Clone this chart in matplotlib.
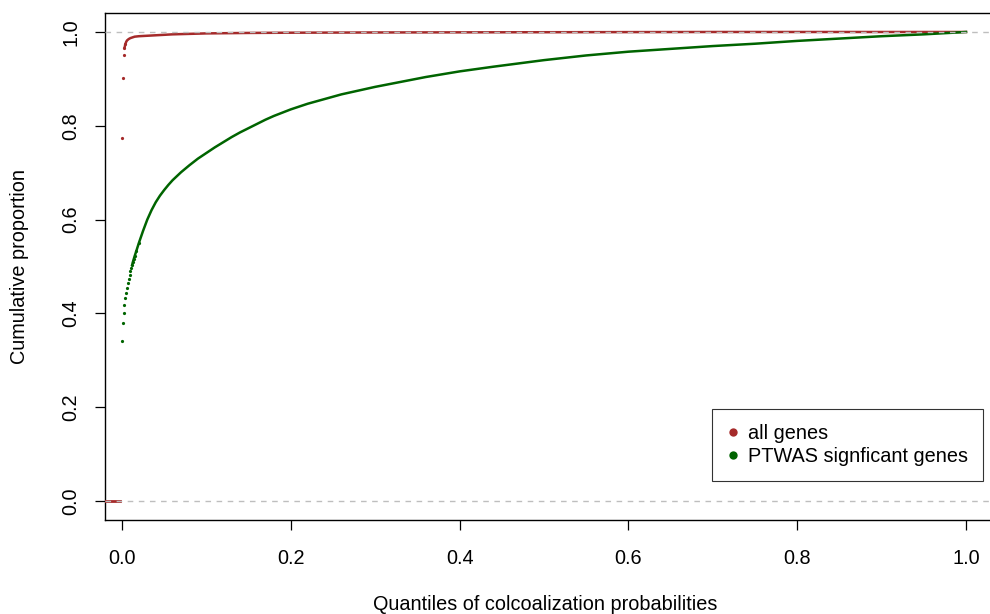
import matplotlib
matplotlib.use("Agg")
import matplotlib.pyplot as plt
import numpy as np

plt.rcParams['font.family'] = ['Liberation Sans', 'DejaVu Sans']

# ---- data ----
all_x = [-0.020, -0.017, -0.014, -0.011, -0.008, -0.005, -0.002,
         0.000, 0.001, 0.002, 0.003, 0.004, 0.005, 0.006, 0.008, 0.010,
         0.015, 0.020, 0.030, 0.040, 0.060, 0.080, 0.100, 0.150, 0.200,
         0.300, 0.500, 0.700, 1.000]
all_y = [0.0, 0.0, 0.0, 0.0, 0.0, 0.0, 0.0,
         0.774, 0.902, 0.950, 0.966, 0.974, 0.979, 0.982, 0.985, 0.987,
         0.990, 0.991, 0.992, 0.993, 0.995, 0.996, 0.997, 0.998, 0.9985,
         0.999, 0.9995, 1.0, 1.0]

sig_x = [0.000, 0.001, 0.002, 0.003, 0.004, 0.005, 0.006, 0.007, 0.008,
         0.009, 0.010, 0.011, 0.012, 0.013, 0.014, 0.015, 0.017, 0.020,
         0.025, 0.030, 0.035, 0.040, 0.045, 0.050, 0.055, 0.060, 0.070,
         0.080, 0.090, 0.100, 0.110, 0.120, 0.130, 0.140, 0.150, 0.160,
         0.170, 0.180, 0.190, 0.200, 0.220, 0.240, 0.260, 0.280, 0.300,
         0.320, 0.340, 0.360, 0.380, 0.400, 0.420, 0.440, 0.470, 0.500,
         0.550, 0.600, 0.650, 0.700, 0.750, 0.800, 0.850, 0.900, 0.950,
         1.000]
sig_y = [0.341, 0.379, 0.401, 0.418, 0.432, 0.444, 0.455, 0.464, 0.473,
         0.481, 0.490, 0.497, 0.503, 0.510, 0.516, 0.522, 0.533, 0.550,
         0.576, 0.600, 0.620, 0.637, 0.651, 0.663, 0.674, 0.684, 0.701,
         0.716, 0.730, 0.742, 0.754, 0.765, 0.776, 0.786, 0.795, 0.804,
         0.813, 0.821, 0.828, 0.835, 0.847, 0.857, 0.867, 0.875, 0.883,
         0.890, 0.897, 0.904, 0.910, 0.916, 0.921, 0.926, 0.933, 0.940,
         0.950, 0.958, 0.964, 0.970, 0.975, 0.981, 0.986, 0.991, 0.995,
         1.000]

x_ticks = [0.0, 0.2, 0.4, 0.6, 0.8, 1.0]
y_ticks = [0.0, 0.2, 0.4, 0.6, 0.8, 1.0]
labels = ["all genes", "PTWAS signficant genes"]
colors = ["#A52A2A", "#006400"]
FS = 14.3

# ---- figure ----
fig = plt.figure(figsize=(9.9, 6.14), dpi=100)
ax = fig.add_axes([105/990, 1 - 520/614, (1000 - 105)/990, (520 - 13)/614])

ax.set_xlim(-0.0201, 1.0403)
ax.set_ylim(-0.0405, 1.0405)

# red series: zero run, sparse dots, then dense curve
ax.plot(all_x[:7], all_y[:7], '-', color=colors[0], lw=2.0, zorder=3)
ax.plot(all_x[7:12], all_y[7:12], 'o', color=colors[0], ms=2.3, mew=0, zorder=3)
ax.plot(all_x[10:], all_y[10:], '-', color=colors[0], lw=1.8, zorder=3)
# green series: sparse dots then dense curve
ax.plot(sig_x[:18], sig_y[:18], 'o', color=colors[1], ms=2.3, mew=0, zorder=3)
ax.plot(sig_x[12:], sig_y[12:], '-', color=colors[1], lw=1.8, zorder=3,
        solid_joinstyle='round')

# dashed reference lines
for yv in (0.0, 1.0):
    ax.axhline(yv, color='#BEBEBE', lw=1.0, ls=(0, (4, 4)), zorder=4)

ax.set_xticks(x_ticks)
ax.set_xticklabels(["%.1f" % v for v in x_ticks])
ax.set_yticks(y_ticks)
ax.set_yticklabels(["%.1f" % v for v in y_ticks], rotation=90, va='center')
ax.tick_params(axis='both', direction='out', length=7, width=0.9,
               labelsize=FS, colors='black')
ax.tick_params(axis='x', pad=14)
ax.tick_params(axis='y', pad=11)
for s in ax.spines.values():
    s.set_linewidth(1.0)
    s.set_color('black')

fig.text(545/990, 1 - 605/614, "Quantiles of colcoalization probabilities",
         ha='center', va='center', fontsize=FS)
fig.text(20/990, 1 - 267/614, "Cumulative proportion", rotation=90,
         ha='center', va='center', fontsize=FS)

# legend
handles = [plt.Line2D([], [], marker='o', ls='', color=c, ms=6, mew=0)
           for c in colors]
leg = ax.legend(handles, labels, loc='lower left',
                bbox_to_anchor=(712/990, 1 - 481/614), bbox_transform=fig.transFigure,
                frameon=True, fancybox=False, fontsize=FS, handlelength=0.6,
                handletextpad=0.45, borderpad=0.75, labelspacing=0.2,
                borderaxespad=0)
leg.get_frame().set_edgecolor('black')
leg.get_frame().set_linewidth(0.8)

fig.savefig("out.png", dpi=100)
